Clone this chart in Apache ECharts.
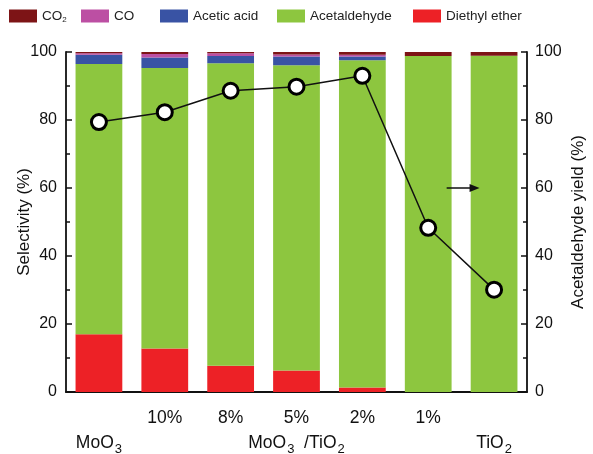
<!DOCTYPE html>
<html>
<head>
<meta charset="utf-8">
<script src="https://cdn.jsdelivr.net/npm/echarts@6/dist/echarts.min.js"></script>
<style>html,body{margin:0;padding:0;background:#fff}#c{width:593px;height:454px}</style>
</head>
<body>
<div id="c"></div>
<script>
var categories = ['MoO3', '10%', '8%', '5%', '2%', '1%', 'TiO2'];
var diethylEther = [17.0, 12.8, 7.7, 6.3, 1.3, 0, 0];
var acetaldehyde = [79.5, 82.5, 89.0, 89.8, 96.3, 98.8, 98.9];
var aceticAcid = [2.7, 3.1, 2.1, 2.6, 1.1, 0, 0];
var co = [0.4, 1.0, 0.8, 0.6, 0.5, 0, 0];
var co2 = [0.4, 0.6, 0.4, 0.7, 0.8, 1.2, 1.1];
var yieldValues = [79.4, 82.3, 88.6, 89.8, 93.0, 48.3, 30.1];
var yTicks = [0, 20, 40, 60, 80, 100];
var arrowCoords = [[5.28, 60], [5.78, 60]];

var FONT = 'Liberation Sans';
var colors = {
  co2: '#7d1416', co: '#bc4fa3', aa: '#3953a4', ac: '#8dc63f', de: '#ed2126'
};

var chart = echarts.init(document.getElementById('c'), null, {renderer: 'canvas'});

function legendAt(name, left, fmt) {
  return {
    data: [name], left: left, top: 9, padding: 0, itemWidth: 28, itemHeight: 13, itemGap: 0,
    icon: 'rect',
    textStyle: {fontFamily: FONT, fontSize: 13.5, color: '#222',
      rich: {a: {fontFamily: FONT, fontSize: 13.5, color: '#222'}, s: {fontFamily: FONT, fontSize: 8, color: '#222', verticalAlign: 'bottom', padding: [8, 0, 0, 0]}}},
    formatter: fmt || '{name}'
  };
}

var axisCommon = {
  type: 'value', min: 0, max: 100, interval: 20,
  axisLine: {show: true, lineStyle: {color: '#111', width: 1.8}},
  axisTick: {show: true, inside: true, length: 6, lineStyle: {color: '#111', width: 1.5}},
  minorTick: {show: true, splitNumber: 2, length: 4, lineStyle: {color: '#111', width: 1.5}},
  splitLine: {show: false},
  nameLocation: 'middle',
  nameMoveOverlap: false,
  nameTextStyle: {fontFamily: FONT, fontSize: 17, color: '#111'},
  axisLabel: {fontFamily: FONT, fontSize: 16, color: '#111'}
};

var option = {
  animation: false,
  backgroundColor: '#fff',
  legend: [
    legendAt('CO2', 9, function () { return '{a|CO}{s|2}'; }),
    legendAt('CO', 81),
    legendAt('Acetic acid', 160),
    legendAt('Acetaldehyde', 277),
    legendAt('Diethyl ether', 413)
  ],
  grid: {left: 66, right: 66, top: 52, bottom: 62, containLabel: false, outerBoundsMode: 'none'},
  xAxis: [{
    type: 'category', data: categories,
    axisLine: {show: true, lineStyle: {color: '#111', width: 1.8}},
    axisTick: {show: false},
    axisLabel: {
      interval: 0, margin: 14, lineHeight: 25,
      fontFamily: FONT, fontSize: 17.5, color: '#111',
      formatter: function (v, i) {
        if (i === 0) return '\n{m|MoO}{s|3}';
        if (i === categories.length - 1) return '\n{m|TiO}{s|2}';
        if (i === 3) return '{m|' + v + '}\n{m|MoO}{s|3}{m|  /TiO}{s|2}';
        return '{m|' + v + '}';
      },
      rich: {
        m: {fontFamily: FONT, fontSize: 17.5, color: '#111', lineHeight: 25},
        s: {fontFamily: FONT, fontSize: 13, color: '#111', verticalAlign: 'bottom', padding: [12, 0, 0, 1], lineHeight: 25}
      }
    }
  }],
  yAxis: [
    Object.assign({}, axisCommon, {position: 'left', name: 'Selectivity (%)', nameGap: 33,
      axisLabel: Object.assign({}, axisCommon.axisLabel, {margin: 9})}),
    Object.assign({}, axisCommon, {position: 'right', name: 'Acetaldehyde yield (%)', nameGap: 43,
      axisLabel: Object.assign({}, axisCommon.axisLabel, {margin: 8})})
  ],
  series: [
    {name: 'Diethyl ether', type: 'bar', stack: 's', data: diethylEther, itemStyle: {color: colors.de}, barCategoryGap: '29%'},
    {name: 'Acetaldehyde', type: 'bar', stack: 's', data: acetaldehyde, itemStyle: {color: colors.ac}},
    {name: 'Acetic acid', type: 'bar', stack: 's', data: aceticAcid, itemStyle: {color: colors.aa}},
    {name: 'CO', type: 'bar', stack: 's', data: co, itemStyle: {color: colors.co}},
    {name: 'CO2', type: 'bar', stack: 's', data: co2, itemStyle: {color: colors.co2}},
    {name: 'Yield', type: 'line', yAxisIndex: 1, data: yieldValues, z: 10,
      symbol: 'circle', symbolSize: 15,
      lineStyle: {color: '#111', width: 1.5},
      itemStyle: {color: '#fff', borderColor: '#000', borderWidth: 3}}
  ]
};
chart.setOption(option);

// Arrow annotation: positions derived from the chart's own scales
var pA = chart.convertToPixel({xAxisIndex: 0, yAxisIndex: 1}, [5, arrowCoords[0][1]]);
var pB = chart.convertToPixel({xAxisIndex: 0, yAxisIndex: 1}, [6, arrowCoords[0][1]]);
var band = pB[0] - pA[0];
var x1 = pA[0] + (arrowCoords[0][0] - 5) * band;
var x2 = pA[0] + (arrowCoords[1][0] - 5) * band;
var y = pA[1];
chart.setOption({
  graphic: [
    {type: 'line', z: 20, shape: {x1: x1, y1: y, x2: x2 - 8, y2: y}, style: {stroke: '#111', lineWidth: 1.5}},
    {type: 'polygon', z: 20, shape: {points: [[x2, y], [x2 - 10, y - 4], [x2 - 10, y + 4]]}, style: {fill: '#111'}}
  ]
});
</script>
</body>
</html>
